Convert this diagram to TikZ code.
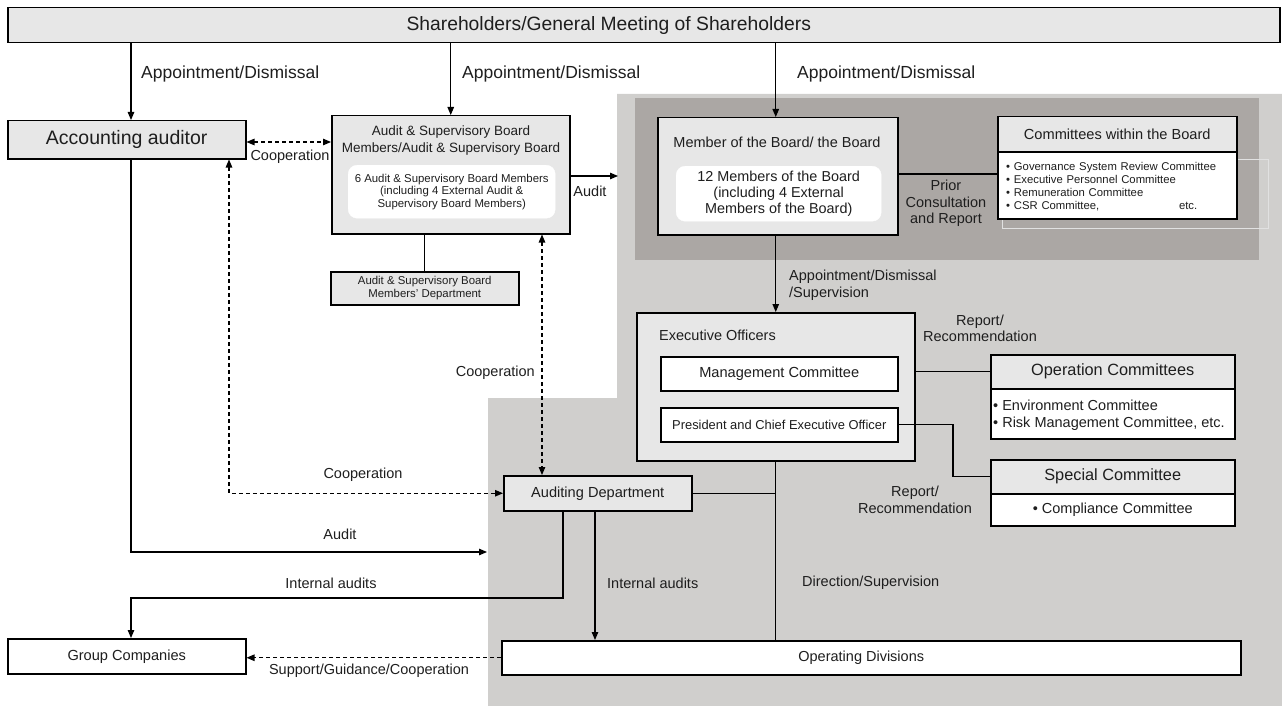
\documentclass[tikz,border=0pt]{standalone}
\usepackage{fontspec}
\setmainfont{Liberation Sans}
\usetikzlibrary{arrows.meta}
\newcommand{\fsz}[2]{\fontsize{#1}{#2}\selectfont}
\definecolor{boxgray}{RGB}{231,231,231}
\definecolor{lightreg}{RGB}{208,207,205}
\definecolor{darkreg}{RGB}{171,167,164}
\definecolor{txt}{RGB}{30,30,30}
\definecolor{faint}{RGB}{225,225,225}
\tikzset{
  box/.style={draw=black, line width=1.5pt, fill=boxgray, inner sep=0pt, anchor=north west, align=center, text=txt},
  wbox/.style={box, fill=white},
  shell/.style={draw=black, line width=1.5pt, fill=boxgray, inner sep=0pt, anchor=north west},
  wround/.style={fill=white, draw=white, rounded corners=9pt, inner sep=0pt, anchor=north west, align=center, text=txt},
  lbl/.style={font=\fsz{14.5}{17}, text=txt, inner sep=0pt, align=center},
  ln/.style={line width=1.1pt, draw=black},
  arr/.style={ln, -{Triangle[length=8pt,width=6.5pt]}},
  dsh/.style={ln, dash pattern=on 4pt off 3pt},
}
\begin{document}
\begin{tikzpicture}[x=1pt,y=-1pt]
\useasboundingbox (0,0) rectangle (1282,706);
% background regions
\fill[lightreg] (617,94) -- (1282,94) -- (1282,706) -- (488,706) -- (488,398) -- (617,398) -- cycle;
\fill[darkreg] (635,98) rectangle (1259,260);

% header
\node[box, minimum width=1272, minimum height=35, font=\fsz{19.3}{23}] (hdr) at (7,7)
  {\hspace*{-70pt}Shareholders/General Meeting of Shareholders};

% accounting auditor
\node[box, minimum width=238, minimum height=38, font=\fsz{19.5}{23}] (acc) at (7,120) {Accounting auditor};

% audit & supervisory board
\node[shell, minimum width=238, minimum height=118] (asb) at (331,115) {};
\node[lbl, font=\fsz{13.5}{17}] (asbt) at (451,140.5) {Audit \& Supervisory Board\\Members/Audit \& Supervisory Board};
\node[wround, minimum width=207, minimum height=53, font=\fsz{11.4}{12.6}] (asbi) at (348,165)
  {6 Audit \& Supervisory Board Members\\(including 4 External Audit \&\\Supervisory Board Members)};
\node[box, minimum width=188, minimum height=33, font=\fsz{11.4}{13}] (dept) at (330,271)
  {Audit \& Supervisory Board\\Members' Department};

% board
\node[shell, minimum width=240, minimum height=117] (board) at (657,117) {};
\node[lbl] (boardt) at (777,142) {Member of the Board/ the Board};
\node[wround, minimum width=205, minimum height=55, font=\fsz{14.4}{16}] (boardi) at (676,166)
  {12 Members of the Board\\(including 4 External\\Members of the Board)};

% committees within the board
\draw[faint, line width=0.8pt] (1002,159) rectangle (1268,228);
\node[box, minimum width=239, minimum height=35, font=\fsz{14.6}{17}] (comh) at (997,116) {Committees within the Board};
\node[wbox, minimum width=239, minimum height=67] (comb) at (997,151) {};
\node[inner sep=0pt, text width=215pt, align=left, font=\fsz{11.3}{13}, text=txt, anchor=west] (coml) at (1006,186.5)
  {\textbullet\ Governance System Review Committee\\
   \textbullet\ Executive Personnel Committee\\
   \textbullet\ Remuneration Committee\\
   \textbullet\ CSR Committee,\hfill etc.\hspace*{24pt}};

% executive officers
\node[shell, minimum width=278, minimum height=148] (exec) at (636,312) {};
\node[lbl, anchor=west] (exect) at (659,335) {Executive Officers};
\node[wbox, minimum width=237, minimum height=34, font=\fsz{14.6}{17}] (mgmt) at (660,356) {Management Committee};
\node[wbox, minimum width=237, minimum height=34, font=\fsz{12.9}{15}] (pres) at (660,407) {President and Chief Executive Officer};

% operation committees
\node[box, minimum width=244, minimum height=34, font=\fsz{16.3}{19}] (oph) at (990,354) {Operation Committees};
\node[wbox, minimum width=244, minimum height=50] (opb) at (990,388) {};
\node[lbl, anchor=west, align=left, font=\fsz{14.5}{17}] (opl) at (993,415.5)
  {\textbullet\ Environment Committee\\\textbullet\ Risk Management Committee, etc.};

% special committee
\node[box, minimum width=244, minimum height=34, font=\fsz{16.3}{19}] (sph) at (990,459) {Special Committee};
\node[wbox, minimum width=244, minimum height=32, font=\fsz{14.5}{17}] (spb) at (990,493) {\textbullet\ Compliance Committee};

% auditing department, group companies, operating divisions
\node[box, minimum width=188, minimum height=35, font=\fsz{14.6}{17}] (aud) at (503,475) {Auditing Department};
\node[wbox, minimum width=238, minimum height=35, font=\fsz{14.6}{17}] (grp) at (7,638) {Group Companies};
\node[wbox, minimum width=739, minimum height=34, font=\fsz{14.5}{17}] (ops) at (501,640) {\hspace*{-20pt}Operating Divisions};

% helper coordinates
\coordinate (c131) at (131,0);
\coordinate (c229) at (229,0);
\coordinate (c542) at (542,0);
\coordinate (c563) at (563,0);
\coordinate (c595) at (595,0);
\coordinate (c953) at (953,0);
\coordinate (y142) at (0,142);
\coordinate (y176) at (0,176);
\coordinate (y174) at (0,174);
\coordinate (auE) at (487,552);
\coordinate (ia1) at (563,598);
\coordinate (ia2) at (131,598);
\coordinate (asbE) at (618,176);

% appointment / dismissal from shareholders
\draw[arr] (c131 |- hdr.south) -- (c131 |- acc.north);
\draw[arr] (hdr.south -| asb.north) -- (asb.north);
\draw[arr] (hdr.south -| exec.north) -- (exec.north |- board.north);
\node[lbl, anchor=west, font=\fsz{17.5}{20}] (ad1) at (141,74) {Appointment/Dismissal};
\node[lbl, anchor=west, font=\fsz{17.5}{20}] (ad2) at (462,74) {Appointment/Dismissal};
\node[lbl, anchor=west, font=\fsz{17.5}{20}] (ad3) at (797,74) {Appointment/Dismissal};

% cooperation accounting auditor <-> A&S board
\draw[dsh, {Triangle[length=8pt,width=6.5pt]}-{Triangle[length=8pt,width=6.5pt]}] (acc.east |- y142) -- (asb.west |- y142);
\node[lbl] (coop1) at (290,157) {Cooperation};

% audit from A&S board
\draw[arr] (asb.east |- y176) -- (asbE);
\node[lbl] (audl1) at (590,191) {Audit};

% A&S board -> department
\draw[ln] (dept.north |- asb.south) -- (dept.north);

% board -> committees
\draw[ln] (board.east |- y174) -- (comb.west |- y174);
\node[lbl, font=\fsz{14.5}{16.5}] (prior) at (946,203.5) {Prior\\Consultation\\and Report};

% board -> executive officers
\draw[arr] (exec.north |- board.south) -- (exec.north);
\node[lbl, anchor=west, align=left, font=\fsz{14.5}{17}] (ads) at (789,285.5) {Appointment/Dismissal\\/Supervision};

% executive officers -> committees
\node[lbl, font=\fsz{14.5}{16}] (rr1) at (980,328) {Report/\\Recommendation};
\draw[ln] (exec.east |- oph.west) -- (oph.west);
\draw[ln] (pres.east) -- (pres.east -| c953) -- (c953 |- sph.west) -- (sph.west);
\node[lbl, font=\fsz{14.5}{17}] (rr2) at (915,500) {Report/\\Recommendation};

% executive officers -> operating divisions
\draw[ln] (exec.south) -- (exec.south |- ops.north);
\draw[ln] (aud.east) -- (aud.east -| exec.south);
\node[lbl, anchor=west] (dirs) at (802,583) {Direction/Supervision};

% cooperation to auditing department
\draw[dsh, {Triangle[length=8pt,width=6.5pt]}-{Triangle[length=8pt,width=6.5pt]}] (c229 |- acc.south) |- (aud.west);
\node[lbl] (coop2) at (363,475) {Cooperation};
\draw[dsh, {Triangle[length=8pt,width=6.5pt]}-{Triangle[length=8pt,width=6.5pt]}] (c542 |- asb.south) -- (c542 |- aud.north);
\node[lbl, anchor=east] (coop3) at (535,373) {Cooperation};

% audit by accounting auditor
\draw[arr] (c131 |- acc.south) |- (auE);
\node[lbl] (audl2) at (340,534) {Audit};

% internal audits
\draw[arr] (ia1 |- aud.south) -- (ia1) -- (ia2) -- (ia2 |- grp.north);
\node[lbl] (ia1l) at (331,583) {Internal audits};
\draw[arr] (c595 |- aud.south) -- (c595 |- ops.north);
\node[lbl, anchor=west] (ia2l) at (607,583) {Internal audits};

% support
\draw[dsh, -{Triangle[length=8pt,width=6.5pt]}] (ops.west) -- (ops.west -| grp.east);
\node[lbl] (sup) at (369,671) {Support/Guidance/Cooperation};
\end{tikzpicture}
\end{document}
